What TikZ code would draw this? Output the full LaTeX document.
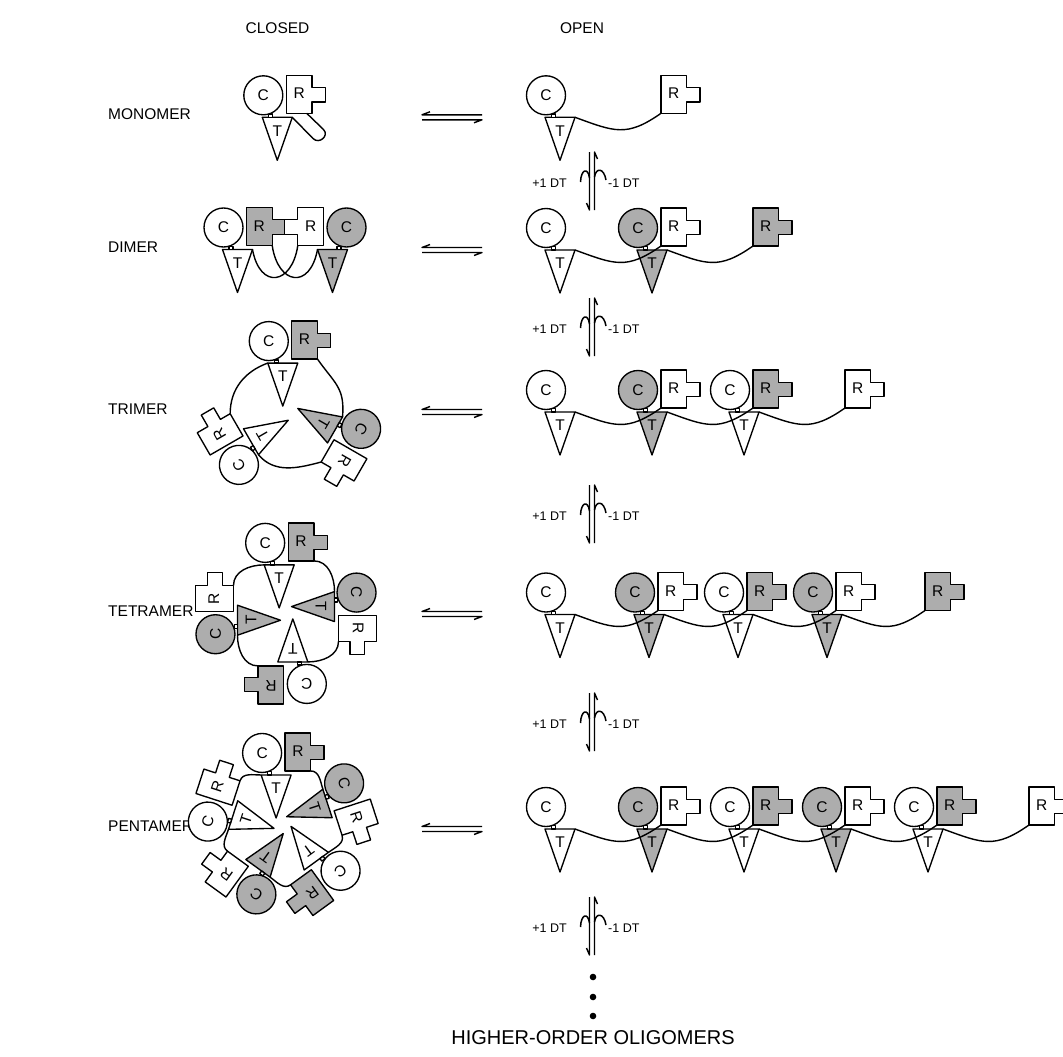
\documentclass[tikz,border=0pt]{standalone}
\usepackage{fontspec}
\setmainfont{Liberation Sans}
\definecolor{shd}{gray}{0.68}
\newcommand{\Tpart}[2]{%
  \draw[part,fill=#1] (-15,0) -- (15,0) -- (0,-43) -- cycle;
  \node[lbl,lblx] at (0,-13.5) {T};
  \coordinate (#2-tl) at (-15,0);
  \coordinate (#2-tr) at (15,0);}
\newcommand{\Cpart}[1]{%
  \draw[part,fill=white] (-8.5,0) rectangle (-4.5,3.2);
  \draw[part,fill=#1] (-14,22) circle[radius=19.5];
  \node[lbl,lblx] at (-14,22) {C};}
\newcommand{\Rpart}[2]{%
  \draw[part,fill=#1] (9,4) -- (34.7,4) -- (34.7,15.3) -- (48,15.3) -- (48,29.7) -- (34.7,29.7) -- (34.7,42) -- (9,42) -- cycle;
  \node[lbl,lblx] at (21.8,23.7) {R};
  \coordinate (#2-rbl) at (9,4);
  \coordinate (#2-rbr) at (34.7,4);}
\newcommand{\RU}[8]{%
  \begin{scope}[shift={({#1+#3*cos(#4+#5)},{-#2+#3*sin(#4+#5)})},rotate=#4-90]
    \Tpart{#6}{#8}\Cpart{#6}\Rpart{#7}{#8}
  \end{scope}}
\newcommand{\openrow}[4]{%
  \foreach \i in {1,...,#3}{%
    \pgfmathsetmacro{\bx}{560+#2*(\i-1)}%
    \pgfmathtruncatemacro{\od}{mod(\i,2)}%
    \ifnum\od=1 \def\uf{white}\def\rf{shd}\else\def\uf{shd}\def\rf{white}\fi
    \begin{scope}[shift={(\bx,-#1)}]
      \Tpart{\uf}{#4u\i}\Cpart{\uf}%
      \ifnum\i>1 \Rpart{\rf}{#4r\i}\fi
    \end{scope}}%
  \pgfmathsetmacro{\bx}{560+#2*#3}%
  \pgfmathtruncatemacro{\od}{mod(#3,2)}%
  \pgfmathtruncatemacro{\nn}{#3+1}%
  \ifnum\od=1 \def\uf{white}\else\def\uf{shd}\fi
  \begin{scope}[shift={(\bx,-#1)}]\Rpart{\uf}{#4r\nn}\end{scope}
  \foreach \i in {1,...,#3}{%
    \pgfmathtruncatemacro{\j}{\i+1}%
    \draw[link] (#4u\i-tr) to[out=-20,in=215,looseness=1.25] (#4r\j-rbl);}%
}
\newcommand{\eqarrow}[1]{%
  \draw[eqa] (482,{-#1+2.5}) -- (422,{-#1+2.5}) -- (430,{-#1+5.5});
  \draw[eqa] (422,{-#1-2.5}) -- (482,{-#1-2.5}) -- (474,{-#1-5.5});}
\newcommand{\dtarrow}[1]{%
  \draw[dta] (589.5,-#1) -- (589.5,{-#1-58}) -- (586.5,{-#1-51});
  \draw[dta] (594.5,{-#1-58}) -- (594.5,-#1) -- (597.5,{-#1-7});
  \draw[hk] (580.5,{-#1-30}) .. controls (581,{-#1-17}) and (588,{-#1-15}) .. (589.5,{-#1-26});
  \draw[hk] (594.5,{-#1-25}) .. controls (596,{-#1-15}) and (604,{-#1-16}) .. (606,{-#1-28});
  \node[dtl,anchor=east] at (567,{-#1-31}) {+1 DT};
  \node[dtl,anchor=west] at (608,{-#1-31}) {-1 DT};}
\begin{document}
\begin{tikzpicture}[x=1pt,y=1pt,line join=round,
  part/.style={draw=black,line width=1.35pt},
  lbl/.style={font=\fontsize{15.5}{15.5}\selectfont,inner sep=0pt,transform shape},
  lblx/.style={},
  link/.style={draw=black,line width=1.4pt},
  eqa/.style={draw=black,line width=1.4pt},
  dta/.style={draw=black,line width=1.4pt},
  hk/.style={draw=black,line width=1.5pt},
  dtl/.style={font=\fontsize{12.5}{13}\selectfont,inner sep=0pt},
  row/.style={font=\fontsize{15.5}{16}\selectfont,anchor=west,inner sep=0pt},
  head/.style={font=\fontsize{15.5}{16}\selectfont,inner sep=0pt}]
\useasboundingbox (0,0) rectangle (1063,-1057);
\fill[white] (0,0) rectangle (1063,-1057);
% headers
\node[head] (hclosed) at (277.5,-28) {CLOSED};
\node[head] (hopen) at (582,-28) {OPEN};
% row labels
\node[row] (lmono) at (108,-114) {MONOMER};
\node[row] (ldi) at (108,-247) {DIMER};
\node[row] (ltri) at (108,-409) {TRIMER};
\node[row] (ltetra) at (108,-611) {TETRAMER};
\node[row] (lpenta) at (108,-826) {PENTAMER};
% ---------- closed monomer
\begin{scope}[shift={(277.3,-117.3)}]
  \Tpart{white}{m0}\Cpart{white}\Rpart{white}{m0}
\end{scope}
\draw[link] (m0-tr) -- (313,-138.5) .. controls (319.1,-144.7) and (329.6,-135.7) .. (323.5,-129.5) -- (306.7,-113.3);
% ---------- closed dimer
\begin{scope}[shift={(237.5,-249.5)}]
  \Tpart{white}{d1}\Cpart{white}\Rpart{shd}{d1}
\end{scope}
\begin{scope}[shift={(332.5,-249.5)},xscale=-1,lblx/.style={xscale=-1}]
  \Tpart{shd}{d2}\Cpart{shd}\Rpart{white}{d2}
\end{scope}
\draw[link] (d1-tr) .. controls (260,-290) and (292,-285) .. (d2-rbr);
\draw[link] (d2-tr) .. controls (310,-290) and (278,-285) .. (d1-rbr);
% ---------- closed trimer
\RU{289.6}{411.6}{49}{90}{8}{white}{shd}{t1}
\RU{289.6}{411.6}{49}{210}{8}{white}{white}{t2}
\RU{289.6}{411.6}{49}{-30}{8}{shd}{white}{t3}
\draw[link] (t1-tl) to[out=200,in=90] (t2-rbr);
\draw[link] (t2-tl) to[out=-50,in=195] (t3-rbr);
\draw[link] (t3-tl) to[out=85,in=-55,looseness=1.2] (t1-rbr);
% ---------- closed tetramer
\RU{286}{613.4}{49}{90}{8}{white}{shd}{q1}
\RU{286}{613.4}{49}{180}{8}{shd}{white}{q2}
\RU{286}{613.4}{49}{270}{8}{white}{shd}{q3}
\RU{286}{613.4}{49}{0}{8}{shd}{white}{q4}
\draw[link] (q1-tl) to[out=180,in=90] (q2-rbr);
\draw[link] (q2-tl) to[out=270,in=180] (q3-rbr);
\draw[link] (q3-tl) to[out=0,in=270] (q4-rbr);
\draw[link] (q4-tl) to[out=90,in=0] (q1-rbr);
% ---------- closed pentamer
\RU{282.2}{824.6}{50}{90}{7}{white}{shd}{p1}
\RU{282.2}{824.6}{50}{162}{7}{white}{white}{p2}
\RU{282.2}{824.6}{50}{234}{7}{shd}{white}{p3}
\RU{282.2}{824.6}{50}{306}{7}{white}{shd}{p4}
\RU{282.2}{824.6}{50}{18}{7}{shd}{white}{p5}
\draw[link] (p1-tl) to[out=180,in=72] (p2-rbr);
\draw[link] (p2-tl) to[out=252,in=144] (p3-rbr);
\draw[link] (p3-tl) to[out=324,in=216] (p4-rbr);
\draw[link] (p4-tl) to[out=36,in=288] (p5-rbr);
\draw[link] (p5-tl) to[out=108,in=0] (p1-rbr);
% ---------- equilibrium arrows
\eqarrow{117.3}
\eqarrow{250}
\eqarrow{412}
\eqarrow{614}
\eqarrow{829}
% ---------- open chains
\openrow{117.3}{92}{1}{a}
\openrow{250}{92}{2}{b}
\openrow{412}{92}{3}{c}
\openrow{614.5}{89}{4}{e}
\openrow{829}{92}{5}{f}
% ---------- DT arrows
\dtarrow{152}
\dtarrow{298}
\dtarrow{485}
\dtarrow{693}
\dtarrow{897}
% dots
\fill (593,-977) circle[radius=3.3];
\fill (593,-997) circle[radius=3.3];
\fill (593,-1016) circle[radius=3.3];
\node[font=\fontsize{20}{20}\selectfont,inner sep=0pt] (higher) at (593,-1038) {HIGHER-ORDER OLIGOMERS};
\end{tikzpicture}
\end{document}
